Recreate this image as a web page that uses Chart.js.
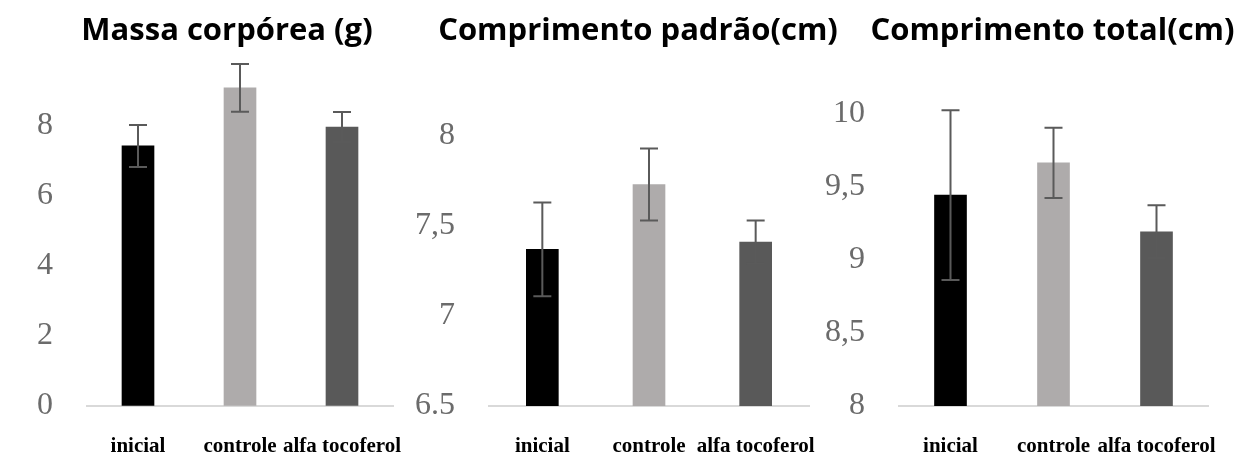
<!DOCTYPE html>
<html>
<head>
<meta charset="utf-8">
<script src="https://cdn.jsdelivr.net/npm/chart.js@4.4.1/dist/chart.umd.min.js"></script>
<style>
  html, body { margin: 0; padding: 0; background: #ffffff; }
  #wrap { position: relative; width: 1240px; height: 454px; overflow: hidden; background: #fff; }
  .c { position: absolute; top: 0; height: 454px; }
</style>
</head>
<body>
<div id="wrap">
  <div class="c" style="left:0px;width:444px"><canvas id="c1"></canvas></div>
  <div class="c" style="left:400px;width:466px"><canvas id="c2"></canvas></div>
  <div class="c" style="left:810px;width:480px"><canvas id="c3"></canvas></div>
</div>
<script>
// ---- Data ----
const categories = ['inicial', 'controle', 'alfa tocoferol'];

const titles = ['Massa corpórea (g)', 'Comprimento padrão(cm)', 'Comprimento total(cm)'];

const massaValues = [7.43, 9.09, 7.97];
const massaErrors = [0.6, 0.68, 0.43];

const padraoValues = [7.37, 7.73, 7.41];
const padraoErrors = [0.26, 0.2, 0.12];

const totalValues = [9.44, 9.66, 9.19];
const totalErrors = [0.58, 0.24, 0.18];

const massaTicks = [0, 2, 4, 6, 8];
const massaTickLabels = ['0', '2', '4', '6', '8'];
const padraoTicks = [6.5, 7, 7.5, 8];
const padraoTickLabels = ['6.5', '7', '7,5', '8'];
const totalTicks = [8, 8.5, 9, 9.5, 10];
const totalTickLabels = ['8', '8,5', '9', '9,5', '10'];

const barColors = ['#000000', '#aeabab', '#595959'];

// ---- Error bar plugin ----
const errorBarPlugin = {
  id: 'errorBars',
  afterDatasetsDraw(chart, args, opts) {
    const errs = opts.errors || [];
    const meta = chart.getDatasetMeta(0);
    const y = chart.scales.y;
    const ctx = chart.ctx;
    const vals = chart.data.datasets[0].data;
    ctx.save();
    ctx.strokeStyle = opts.color || '#595959';
    ctx.lineWidth = opts.width || 2;
    meta.data.forEach((bar, i) => {
      const e = errs[i];
      if (e == null) return;
      const x = bar.x;
      const yTop = y.getPixelForValue(vals[i] + e);
      const yBot = y.getPixelForValue(vals[i] - e);
      const cw = opts.cap || 9;
      ctx.beginPath();
      ctx.moveTo(x, yTop); ctx.lineTo(x, yBot);
      ctx.moveTo(x - cw, yTop); ctx.lineTo(x + cw, yTop);
      ctx.moveTo(x - cw, yBot); ctx.lineTo(x + cw, yBot);
      ctx.stroke();
    });
    ctx.restore();
  }
};

function makeChart(id, title, values, errors, yMin, yMax, tickVals, tickLabels, geom) {
  return new Chart(document.getElementById(id), {
    type: 'bar',
    data: {
      labels: categories,
      datasets: [{
        data: values,
        backgroundColor: barColors,
        borderColor: barColors,
        borderWidth: 0,
        barThickness: 32,
        yAxisID: 'y'
      }]
    },
    plugins: [errorBarPlugin],
    options: {
      responsive: true,
      maintainAspectRatio: false,
      animation: false,
      layout: { padding: { left: geom.pl, right: 0, top: 0, bottom: 0 } },
      plugins: {
        legend: { display: false },
        tooltip: { enabled: false },
        title: {
          display: true,
          text: title,
          color: '#000000',
          font: { family: "'Open Sans', 'Noto Sans', sans-serif", size: 31, weight: 'bold', lineHeight: 1.2 },
          padding: { top: 12.4, bottom: 6.4 }
        },
        errorBars: { errors: errors, color: '#5a5a5a', width: 2, cap: 9 }
      },
      scales: {
        x: {
          grid: { display: true, drawOnChartArea: false, drawTicks: true, tickLength: 28, tickColor: 'rgba(0,0,0,0)' },
          border: { display: true, color: '#d9d9d9', width: 2 },
          ticks: {
            padding: 0,
            color: '#000000',
            font: { family: "'Liberation Serif', 'Times New Roman', serif", size: 21, weight: 'bold' },
            maxRotation: 0, autoSkip: false
          },
          afterFit(scale) { scale.height = 48; }
        },
        y: {
          position: 'left',
          min: yMin,
          max: yMax,
          grid: { display: true, drawOnChartArea: false, drawTicks: true, tickLength: 34, tickColor: 'rgba(0,0,0,0)' },
          border: { display: false },
          afterBuildTicks(scale) { scale.ticks = tickVals.map(v => ({ value: v })); },
          ticks: {
            padding: 0,
            color: '#6b6b6b',
            font: { family: "'Liberation Serif', 'Times New Roman', serif", size: 32 },
            callback(value) {
              const i = tickVals.indexOf(value);
              return i >= 0 ? tickLabels[i] : '';
            }
          },
          afterFit(scale) { scale.width = geom.yw; }
        },
        spacer: {
          type: 'linear',
          position: 'right',
          display: true,
          grid: { display: false },
          border: { display: false },
          ticks: { display: false },
          afterFit(scale) { scale.width = geom.rw; }
        }
      }
    }
  });
}

// chart areas: c1 87-393, c2 489-809, c3 899-1208 (page px)
makeChart('c1', titles[0], massaValues, massaErrors, 0, 10, massaTicks, massaTickLabels,
  { pl: 10, yw: 77, rw: 51 });
makeChart('c2', titles[1], padraoValues, padraoErrors, 6.5, 8.444, padraoTicks, padraoTickLabels,
  { pl: 10, yw: 79, rw: 57 });
makeChart('c3', titles[2], totalValues, totalErrors, 8, 10.39, totalTicks, totalTickLabels,
  { pl: 5, yw: 84, rw: 82 });
</script>
</body>
</html>
